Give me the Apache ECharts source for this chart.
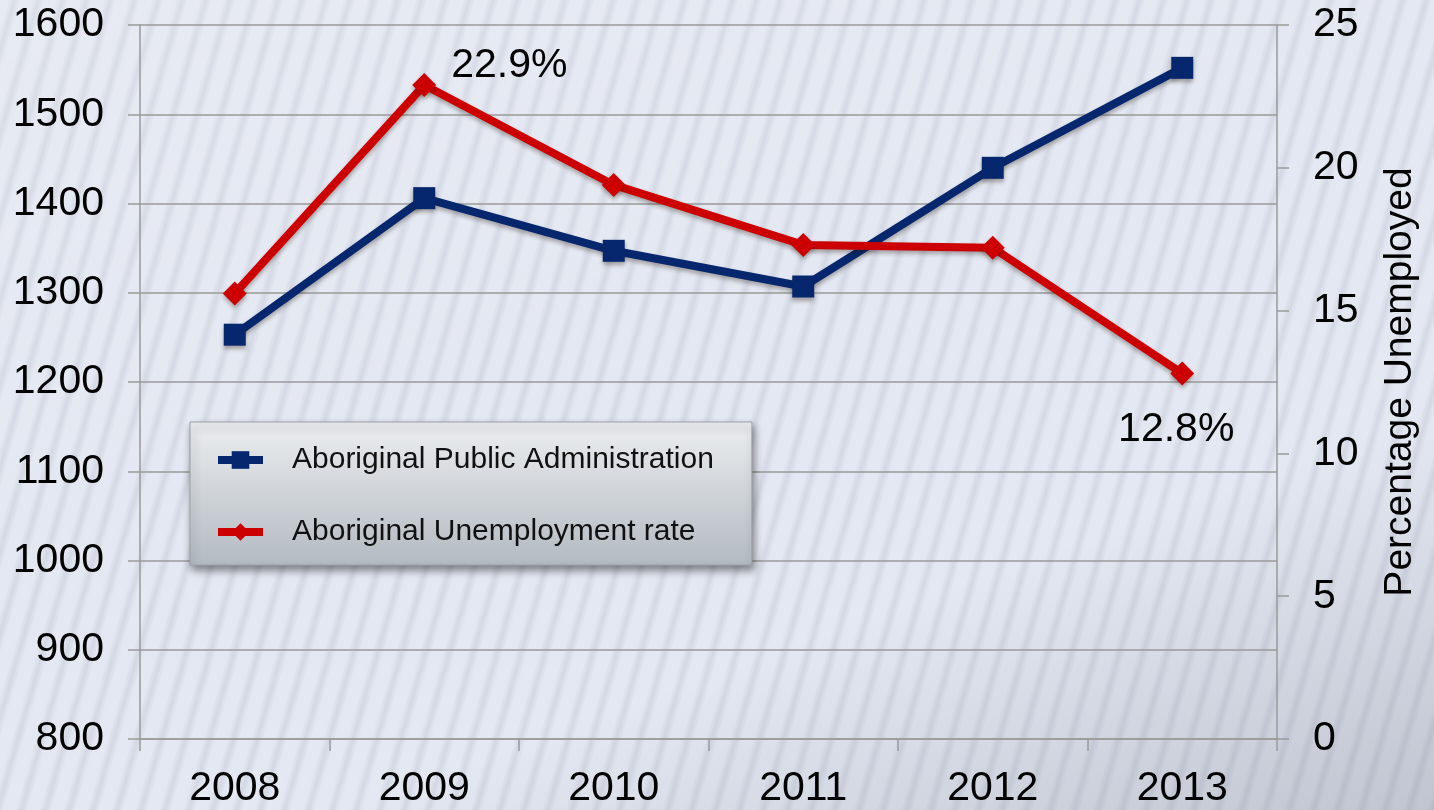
<!DOCTYPE html>
<html>
<head>
<meta charset="utf-8">
<script src="https://cdn.jsdelivr.net/npm/echarts@6/dist/echarts.min.js"></script>
<style>
  html, body { margin: 0; padding: 0; width: 1434px; height: 810px; overflow: hidden; }
  body {
    background:
      linear-gradient(160deg, rgba(255,255,255,0.12) 0%, rgba(255,255,255,0) 45%, rgba(120,125,140,0) 70%, rgba(110,115,130,0.30) 100%),
      repeating-linear-gradient(106deg, #e4e8f2 0px, #e4e8f2 8px, #d3d8e4 14px, #e4e8f2 20px, #e4e8f2 23px);
  }
  #chart { width: 1434px; height: 810px; }
</style>
</head>
<body>
<div id="chart"></div>
<script>
const years = ['2008', '2009', '2010', '2011', '2012', '2013'];
const publicAdmin = [1253, 1406, 1347, 1307, 1440, 1552];
const unemploymentRate = [15.6, 22.9, 19.4, 17.3, 17.2, 12.8];
const labelledPoints = { 1: 'topRight', 5: 'below' };
const leftTicks = { min: 800, max: 1600, interval: 100 };
const rightTicks = { min: 0, max: 25, interval: 5 };

const FONT = '"Liberation Sans", Arial, sans-serif';
const chart = echarts.init(document.getElementById('chart'), null, { renderer: 'canvas' });

const rateData = unemploymentRate.map((v, i) => {
  const item = { value: v };
  if (labelledPoints[i] === 'topRight') {
    item.label = { show: true, position: 'right', offset: [10, -19], formatter: v.toFixed(1) + '%' };
  } else if (labelledPoints[i] === 'below') {
    item.label = { show: true, position: 'bottom', distance: 24, offset: [-6, 0], formatter: v.toFixed(1) + '%' };
  }
  return item;
});

const shadow = { shadowColor: 'rgba(40,30,20,0.35)', shadowBlur: 4, shadowOffsetY: 3 };

chart.setOption({
  backgroundColor: 'transparent',
  animation: false,
  grid: { left: 140, right: 157, top: 25, bottom: 71, containLabel: false },
  legend: {
    orient: 'vertical',
    left: 190,
    top: 422,
    padding: [23, 38, 18, 24],
    itemGap: 42,
    itemWidth: 45,
    itemHeight: 22,
    lineStyle: { width: 8 },
    backgroundColor: new echarts.graphic.LinearGradient(0, 0, 0, 1, [
      { offset: 0, color: '#eceef0' },
      { offset: 1, color: '#b3bac1' }
    ]),
    borderColor: '#9aa0a6',
    borderWidth: 1,
    shadowColor: 'rgba(0,0,0,0.45)',
    shadowBlur: 8,
    shadowOffsetX: 2,
    shadowOffsetY: 5,
    textStyle: { fontFamily: FONT, fontSize: 30, color: '#111', padding: [0, 0, 0, 24] },
    data: ['Aboriginal Public Administration', 'Aboriginal Unemployment rate']
  },
  xAxis: {
    type: 'category',
    data: years,
    boundaryGap: true,
    axisLine: { show: true, lineStyle: { color: '#9a9a9a', width: 1.5 } },
    axisTick: { show: true, length: 12, lineStyle: { color: '#9a9a9a', width: 1.5 } },
    axisLabel: { fontFamily: FONT, fontSize: 41, color: '#000', margin: 29 },
    splitLine: { show: false }
  },
  yAxis: [
    {
      type: 'value',
      min: leftTicks.min, max: leftTicks.max, interval: leftTicks.interval,
      axisLine: { show: true, lineStyle: { color: '#9a9a9a', width: 1.5 } },
      axisTick: { show: true, length: 12, lineStyle: { color: '#9a9a9a', width: 1.5 } },
      axisLabel: { fontFamily: FONT, fontSize: 41, color: '#000', margin: 36, formatter: v => String(v) },
      splitLine: { show: true, lineStyle: { color: '#9a9a9a', width: 1.5 } }
    },
    {
      type: 'value',
      position: 'right',
      min: rightTicks.min, max: rightTicks.max, interval: rightTicks.interval,
      name: 'Percentage Unemployed',
      nameLocation: 'middle',
      nameRotate: 90,
      nameGap: 104,
      nameTextStyle: { fontFamily: FONT, fontSize: 39, color: '#000' },
      axisLine: { show: true, lineStyle: { color: '#9a9a9a', width: 1.5 } },
      axisTick: { show: true, length: 12, lineStyle: { color: '#9a9a9a', width: 1.5 } },
      axisLabel: { fontFamily: FONT, fontSize: 41, color: '#000', margin: 36 },
      splitLine: { show: false }
    }
  ],
  series: [
    {
      name: 'Aboriginal Public Administration',
      type: 'line',
      yAxisIndex: 0,
      data: publicAdmin,
      symbol: 'rect',
      symbolSize: 22,
      lineStyle: Object.assign({ color: '#06276e', width: 8 }, shadow),
      itemStyle: Object.assign({ color: '#06276e' }, shadow),
      z: 3
    },
    {
      name: 'Aboriginal Unemployment rate',
      type: 'line',
      yAxisIndex: 1,
      data: rateData,
      symbol: 'diamond',
      symbolSize: 24,
      lineStyle: Object.assign({ color: '#cc0000', width: 8 }, shadow),
      itemStyle: Object.assign({ color: '#cc0000' }, shadow),
      label: { fontFamily: FONT, fontSize: 41, color: '#000' },
      z: 4
    }
  ]
});
</script>
</body>
</html>
